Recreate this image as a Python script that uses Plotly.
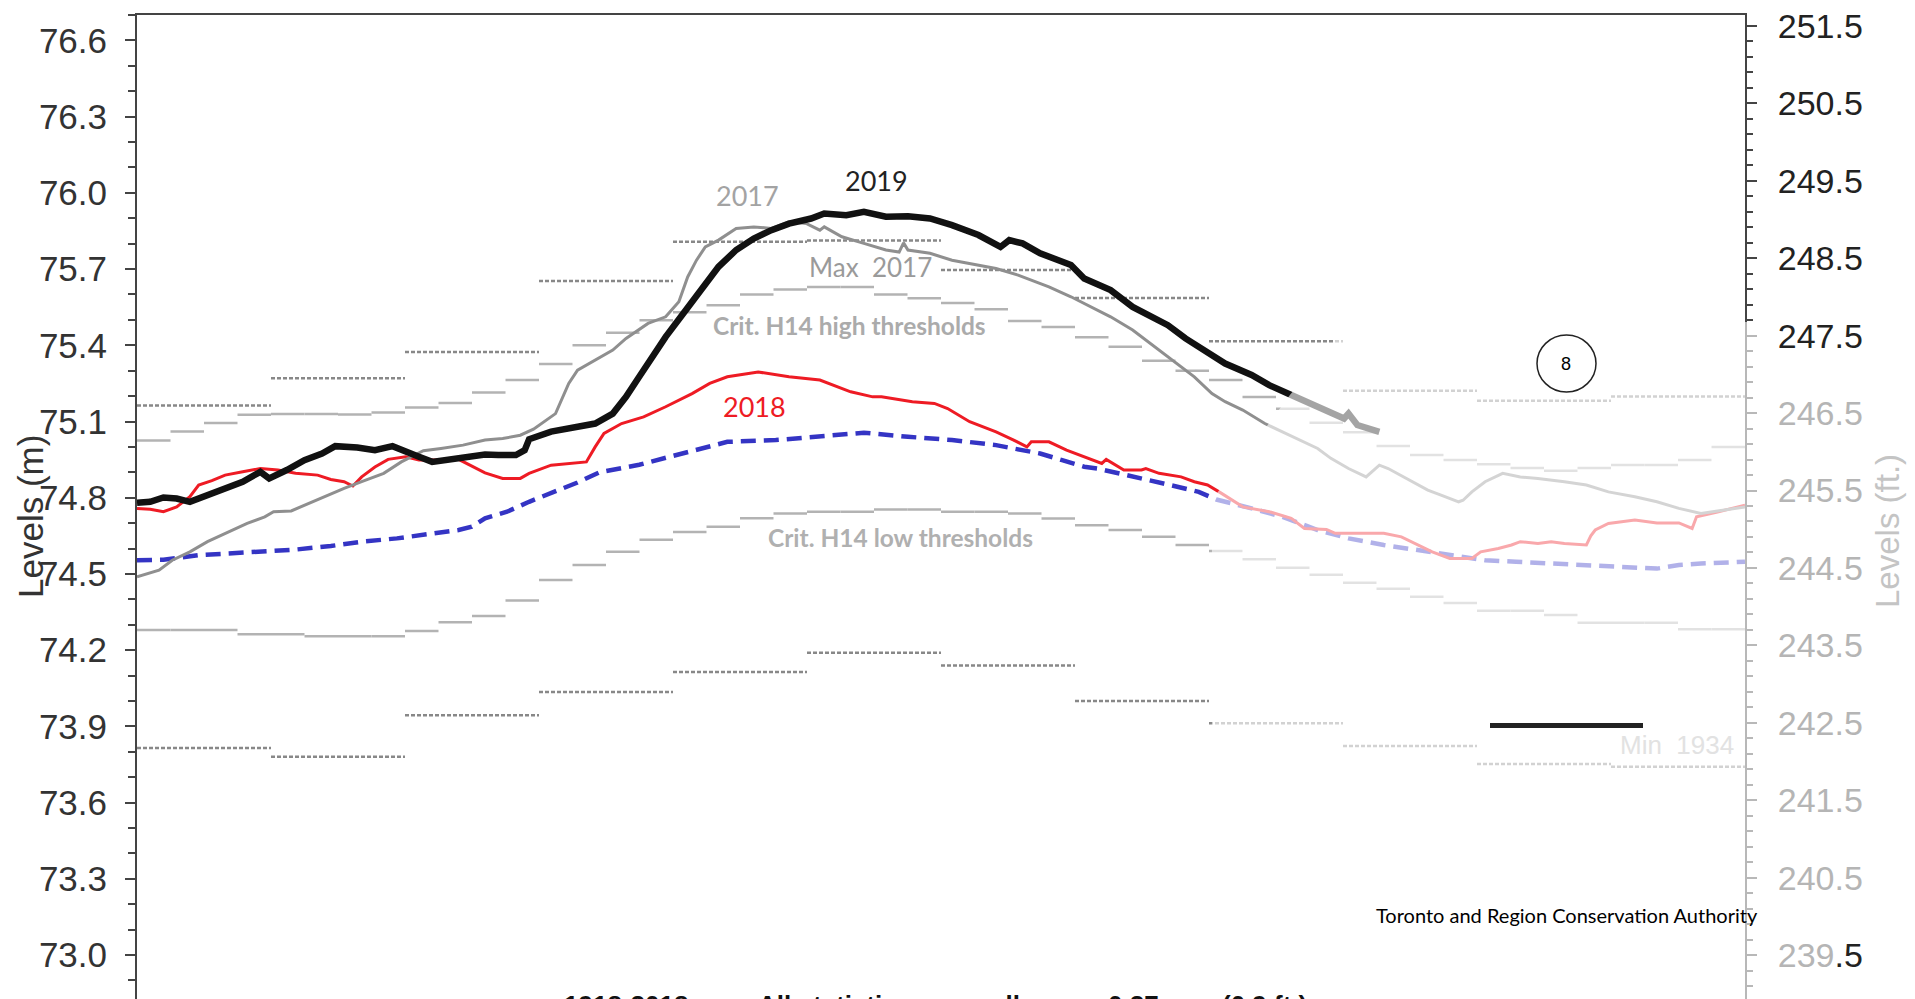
import plotly.graph_objects as go

# ---------------- geometry (page pixels; the page body adds an 8px margin) ----------------
PAGE_W, PAGE_H = 1915, 999
OFF = 8
W, H = PAGE_W - OFF, PAGE_H - OFF
PL, PR, PT, PB = 137, 1745, 15, 999          # plot area edges in page px
FT = 0.3048
Y_RANGE_M = [72.827, 76.70]
X_RANGE = [0, 365]

def xp(px):
    return (px - PL) / (PR - PL)

def yp(py):
    return (PB - py) / (PB - PT)

# ---------------- data (day of year, metres) ----------------
days_2019 = [0, 3, 6, 9, 12, 16, 20, 24, 28, 30, 34, 38, 42, 45, 50, 54, 58, 61, 64, 67,
             71, 75, 79, 82, 86, 88, 89, 94, 100, 104, 108, 111, 114, 117, 120, 124, 128, 132, 136, 140,
             144, 148, 153, 156, 161, 165, 170, 175, 180, 185, 191, 196, 198, 201, 205, 212, 215, 221, 226, 230,
             234, 238, 243, 247, 253, 257, 262, 266, 271, 274, 275, 277, 282]
lvl_2019 = [74.78, 74.784, 74.801, 74.797, 74.784, 74.81, 74.837, 74.863, 74.902, 74.876,
            74.909, 74.948, 74.974, 75.003, 74.998, 74.987, 75.003, 74.985, 74.961, 74.941,
            74.951, 74.961, 74.97, 74.968, 74.968, 74.987, 75.03, 75.06, 75.079, 75.092,
            75.131, 75.197, 75.276, 75.354, 75.433, 75.525, 75.617, 75.709, 75.775, 75.82,
            75.853, 75.879, 75.899, 75.919, 75.912, 75.925, 75.906, 75.908, 75.899, 75.873,
            75.834, 75.787, 75.814, 75.801, 75.762, 75.716, 75.663, 75.617, 75.551, 75.512,
            75.479, 75.427, 75.368, 75.328, 75.283, 75.243, 75.204, 75.171, 75.131, 75.112,
            75.131, 75.086, 75.059]

days_2017 = [0, 5, 8, 12, 16, 20, 25, 29, 31, 35, 39, 43, 47, 51, 56, 60, 63, 65, 69, 74,
             79, 83, 87, 90, 95, 98, 100, 104, 108, 111, 116, 120, 123, 125, 127, 129, 132, 136, 140, 144,
             148, 152, 155, 156, 160, 165, 170, 173, 174, 175, 180, 185, 191, 195, 200, 203, 207, 212, 215, 221,
             226, 231, 236, 240, 244, 247, 251, 256, 260, 264, 268, 271, 275, 279, 282, 284, 289, 293, 296, 300,
             301, 303, 306, 310, 314, 318, 324, 329, 334, 340, 345, 350, 355, 360, 365]
lvl_2017 = [74.489, 74.515, 74.554, 74.587, 74.627, 74.66, 74.699, 74.725, 74.745, 74.748,
            74.778, 74.81, 74.837, 74.863, 74.896, 74.941, 74.968, 74.985, 74.994, 75.007,
            75.027, 75.033, 75.046, 75.07, 75.131, 75.25, 75.302, 75.342, 75.381, 75.427,
            75.486, 75.512, 75.571, 75.669, 75.735, 75.787, 75.814, 75.86, 75.866, 75.86,
            75.886, 75.879, 75.853, 75.866, 75.827, 75.801, 75.775, 75.767, 75.803, 75.775,
            75.762, 75.735, 75.716, 75.702, 75.676, 75.656, 75.63, 75.591, 75.564, 75.512,
            75.46, 75.394, 75.328, 75.276, 75.21, 75.178, 75.145, 75.092, 75.059, 75.027,
            74.994, 74.955, 74.915, 74.882, 74.928, 74.915, 74.869, 74.83, 74.81, 74.784,
            74.79, 74.823, 74.863, 74.896, 74.882, 74.876, 74.863, 74.85, 74.823, 74.804,
            74.784, 74.758, 74.738, 74.751, 74.764]

days_2018 = [0, 3, 6, 9, 12, 14, 17, 20, 24, 28, 32, 36, 41, 44, 47, 49, 51, 54, 57, 61,
             64, 69, 73, 76, 79, 83, 87, 89, 94, 102, 104, 106, 110, 115, 120, 126, 130, 134, 141, 148,
             155, 162, 167, 169, 176, 181, 184, 189, 195, 199, 202, 203, 207, 211, 216, 219, 220, 224, 228, 229,
             232, 237, 240, 243, 246, 251, 257, 262, 265, 270, 272, 278, 283, 287, 291, 294, 298, 303, 305, 309,
             312, 314, 318, 321, 324, 329, 330, 331, 334, 340, 345, 350, 353, 354, 359, 365]
lvl_2018 = [74.758, 74.755, 74.745, 74.764, 74.804, 74.85, 74.867, 74.889, 74.902, 74.915,
            74.909, 74.896, 74.889, 74.872, 74.863, 74.846, 74.882, 74.921, 74.951, 74.961,
            74.948, 74.948, 74.951, 74.924, 74.898, 74.876, 74.876, 74.896, 74.928, 74.941,
            75.0, 75.053, 75.092, 75.118, 75.158, 75.21, 75.25, 75.276, 75.295, 75.276,
            75.263, 75.217, 75.197, 75.197, 75.178, 75.171, 75.151, 75.099, 75.059, 75.027,
            75.0, 75.02, 75.02, 74.987, 74.955, 74.935, 74.951, 74.909, 74.909, 74.915,
            74.896, 74.882, 74.863, 74.85, 74.819, 74.764, 74.745, 74.719, 74.679, 74.675,
            74.66, 74.66, 74.66, 74.646, 74.614, 74.587, 74.561, 74.561, 74.587, 74.6,
            74.614, 74.627, 74.62, 74.627, 74.62, 74.614, 74.65, 74.673, 74.699, 74.712,
            74.701, 74.701, 74.679, 74.725, 74.745, 74.771]

days_avg = [0, 6, 14, 21, 29, 36, 44, 51, 59, 67, 73, 76, 79, 84, 89, 100, 105, 114, 124, 134,
            145, 155, 165, 175, 185, 195, 201, 205, 210, 215, 218, 225, 233, 241, 245, 253, 260, 268, 275, 283,
            291, 298, 306, 313, 321, 332, 345, 350, 355, 365]
lvl_avg = [74.554, 74.556, 74.574, 74.581, 74.585, 74.596, 74.61, 74.627, 74.64, 74.66,
           74.673, 74.686, 74.719, 74.745, 74.784, 74.86, 74.9, 74.93, 74.974, 75.02,
           75.027, 75.04, 75.056, 75.04, 75.027, 75.007, 74.987, 74.974, 74.948, 74.922,
           74.915, 74.889, 74.856, 74.823, 74.793, 74.758, 74.725, 74.673, 74.64, 74.614,
           74.594, 74.574, 74.554, 74.548, 74.541, 74.53, 74.521, 74.535, 74.541, 74.548]

# quarter-month Crit. H14 thresholds (48 steps)
h14_high = [75.025, 75.061, 75.094, 75.127, 75.13, 75.13, 75.128, 75.135, 75.155, 75.173,
            75.214, 75.263, 75.326, 75.40, 75.449, 75.499, 75.53, 75.558, 75.60, 75.62,
            75.629, 75.629, 75.60, 75.585, 75.566, 75.542, 75.496, 75.472, 75.432, 75.394,
            75.339, 75.30, 75.263, 75.196, 75.15, 75.095, 75.058, 75.004, 74.968, 74.948,
            74.932, 74.917, 74.906, 74.917, 74.929, 74.929, 74.948, 75.0]
h14_low = [74.279, 74.279, 74.279, 74.263, 74.263, 74.255, 74.255, 74.255, 74.275, 74.31,
           74.334, 74.395, 74.476, 74.535, 74.587, 74.635, 74.665, 74.686, 74.719, 74.738,
           74.745, 74.745, 74.754, 74.754, 74.745, 74.745, 74.738, 74.718, 74.692, 74.673,
           74.646, 74.614, 74.59, 74.558, 74.524, 74.497, 74.465, 74.442, 74.41, 74.386,
           74.355, 74.355, 74.338, 74.308, 74.308, 74.308, 74.282, 74.282]

# monthly record max / min
month_max = [75.163, 75.27, 75.374, 75.653, 75.808, 75.812, 75.696, 75.586, 75.416, 75.221, 75.182, 75.198]
month_min = [73.815, 73.78, 73.944, 74.035, 74.114, 74.19, 74.14, 74.0, 73.912, 73.823, 73.752, 73.741]

ft_ticks = [239.5 + i for i in range(13)]

# caption words along the (cut-off) bottom edge
caption_words = ["1918-2018", "All statistics", "all", "0.27 m", "(0.9 ft.)"]


def step_segments(vals):
    n = len(vals)
    w = (X_RANGE[1] - X_RANGE[0]) / n
    xs, ys = [], []
    for i, v in enumerate(vals):
        xs += [X_RANGE[0] + i * w, X_RANGE[0] + (i + 1) * w, None]
        ys += [v, v, None]
    return xs, ys


fig = go.Figure()

for vals, color, dash, width in [
    (h14_high, "#b3b3b3", "solid", 2.5),
    (h14_low, "#b3b3b3", "solid", 2.5),
    (month_max, "#888888", "4px,2px", 2.5),
    (month_min, "#888888", "4px,2px", 2.5),
]:
    sx, sy = step_segments(vals)
    fig.add_trace(go.Scatter(x=sx, y=sy, mode="lines", line=dict(color=color, width=width, dash=dash),
                             hoverinfo="skip", showlegend=False, connectgaps=False))

fig.add_trace(go.Scatter(x=days_avg, y=lvl_avg, mode="lines",
                         line=dict(color="#3434c4", width=4.5, dash="15px,8px"),
                         hoverinfo="skip", showlegend=False))
fig.add_trace(go.Scatter(x=days_2018, y=lvl_2018, mode="lines",
                         line=dict(color="#ee1b24", width=3), hoverinfo="skip", showlegend=False))
fig.add_trace(go.Scatter(x=days_2017, y=lvl_2017, mode="lines",
                         line=dict(color="#8f8f8f", width=3), hoverinfo="skip", showlegend=False))
fig.add_trace(go.Scatter(x=days_2019, y=lvl_2019, mode="lines",
                         line=dict(color="#111111", width=6.5), hoverinfo="skip", showlegend=False))
# invisible companion on the feet axis so the right axis is drawn
fig.add_trace(go.Scatter(x=days_avg, y=[v / FT for v in lvl_avg], yaxis="y2", mode="lines",
                         line=dict(width=0), opacity=0, hoverinfo="skip", showlegend=False))

AX = "#444444"
dark_lbl = "#222222"
light_lbl = "#b5b5b5"
ft_text = []
for t in ft_ticks:
    if t >= 247.5:
        ft_text.append(f"<span style='color:{dark_lbl}'>{t:.1f}</span>")
    elif t == 239.5:
        ft_text.append(f"<span style='color:{light_lbl}'>239</span><span style='color:{dark_lbl}'>.5</span>")
    else:
        ft_text.append(f"<span style='color:{light_lbl}'>{t:.1f}</span>")

fig.update_layout(
    width=W, height=H, autosize=False,
    margin=dict(l=PL - OFF, r=PAGE_W - PR, t=PT - OFF, b=PAGE_H - PB, pad=0),
    paper_bgcolor="white", plot_bgcolor="white",
    showlegend=False,
    xaxis=dict(range=X_RANGE, side="top", showline=True, linecolor=AX, linewidth=2,
               showticklabels=False, ticks="", showgrid=False, zeroline=False),
    yaxis=dict(range=Y_RANGE_M, tick0=73.0, dtick=0.3, tickformat=".1f",
               ticks="outside", ticklen=10, tickwidth=2, tickcolor=AX,
               showline=True, linecolor=AX, linewidth=2, showgrid=False, zeroline=False,
               tickfont=dict(family="Liberation Sans", size=35, color="#333333"),
               ticklabelstandoff=11, ticklabeloverflow="allow",
               minor=dict(tick0=73.0, dtick=0.1, ticks="outside", ticklen=7, tickwidth=1.5,
                          tickcolor=AX, showgrid=False)),
    yaxis2=dict(range=[Y_RANGE_M[0] / FT, Y_RANGE_M[1] / FT], overlaying="y", side="right", anchor="x",
                tickmode="array", tickvals=ft_ticks, ticktext=ft_text,
                ticks="outside", ticklen=10, tickwidth=2, tickcolor=AX,
                showline=True, linecolor=AX, linewidth=2, showgrid=False, zeroline=False,
                tickfont=dict(family="Liberation Sans", size=34, color=dark_lbl),
                ticklabelstandoff=14, ticklabeloverflow="allow",
                minor=dict(tickmode="linear", tick0=239.5, dtick=0.2, ticks="outside", ticklen=6,
                           tickwidth=1.5, tickcolor=AX, showgrid=False)),
)

# faded (forecast) region: semi-transparent white veil over the right part
veil = [(1350, 322), (1762, 322), (1762, 1010), (1212, 1010), (1212, 500), (1290, 395)]
path = "M " + " L ".join(f"{xp(a):.4f},{yp(b):.4f}" for a, b in veil) + " Z"
shapes = [
    dict(type="path", xref="paper", yref="paper", path=path, fillcolor="white",
         opacity=0.62, line=dict(width=0), layer="above"),
    dict(type="circle", xref="paper", yref="paper", x0=xp(1537), x1=xp(1596), y0=yp(392), y1=yp(335),
         fillcolor="white", line=dict(color="#222222", width=1.5), layer="above"),
    dict(type="rect", xref="paper", yref="paper", x0=xp(1490), x1=xp(1643), y0=yp(728), y1=yp(723),
         fillcolor="#222222", line=dict(width=0), layer="above"),
]
fig.update_layout(shapes=shapes)


def note(text, px, py, size, color, family="Lato", bold=False, angle=0, xanchor="center",
         yanchor="middle", pad=1):
    t = f"<b>{text}</b>" if bold else text
    fig.add_annotation(text=t, x=xp(px), y=yp(py), xref="paper", yref="paper", showarrow=False,
                       xanchor=xanchor, yanchor=yanchor, textangle=angle, borderpad=pad,
                       font=dict(family=family, size=size, color=color))


note("2017", 747, 195, 27, "#a3a3a3")
note("2019", 876, 180, 27, "#222222")
note("Max  2017", 870, 267, 26, "#9a9a9a")
note("Crit. H14 high thresholds", 849, 325, 24.5, "#ababab", bold=True)
note("2018", 754, 407, 27, "#ee1b24")
note("Crit. H14 low thresholds", 900, 537, 24.5, "#b0b0b0", bold=True)
note("Min  1934", 1677, 745, 26, "#e2e2e2", family="Liberation Sans")
note("Toronto and Region Conservation Authority", 1567, 915, 20, "#000000")
note("8", 1566, 364, 18, "#000000", family="Liberation Sans")
note("Levels (m)", 30, 517, 35, "#333333", family="Liberation Sans", angle=-90, pad=0)
note("Levels (ft.)", 1887, 531, 33, "#c4c4c4", family="Liberation Sans", angle=-90)
for word, cx in zip(caption_words, [626, 834, 1005, 1148, 1264]):
    note(word, cx, 988, 26, "#111111", family="Liberation Sans", bold=True, yanchor="top")

fig.write_html("out.html")
